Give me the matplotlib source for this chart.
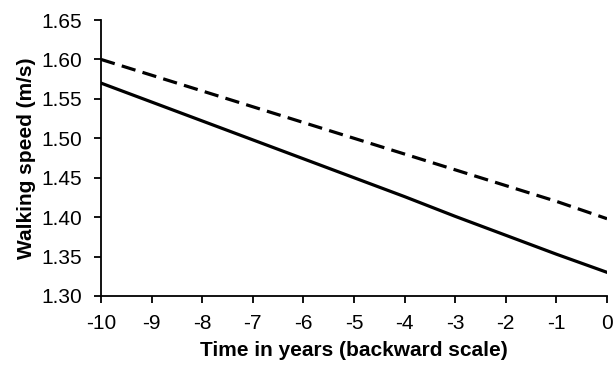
import matplotlib
matplotlib.use("Agg")
import matplotlib.pyplot as plt

# Time in years (backward scale)
years = [-10, -9, -8, -7, -6, -5, -4, -3, -2, -1, 0]
# Walking speed (m/s)
speed_solid = [1.570, 1.546, 1.522, 1.498, 1.474, 1.450, 1.426, 1.401, 1.377, 1.353, 1.330]
speed_dashed = [1.600, 1.580, 1.560, 1.540, 1.520, 1.500, 1.480, 1.460, 1.440, 1.420, 1.398]
y_ticks = [1.30, 1.35, 1.40, 1.45, 1.50, 1.55, 1.60, 1.65]

plt.rcParams['font.family'] = ['Liberation Sans', 'DejaVu Sans']

fig = plt.figure(figsize=(6.14, 3.67), dpi=100)
ax = fig.add_axes([0.1645, 0.1935, 0.8241, 0.752])

ax.plot(years, speed_dashed, color="black", linewidth=2.3, linestyle=(0, (4.5, 2.3)))
ax.plot(years, speed_solid, color="black", linewidth=2.3)

ax.set_xlim(-10, 0)
ax.set_ylim(1.30, 1.65)
ax.set_xticks(years)
ax.set_xticklabels([str(v) for v in years])
ax.set_yticks(y_ticks)
ax.set_yticklabels([f"{v:.2f}" for v in y_ticks])

for side in ["top", "right"]:
    ax.spines[side].set_visible(False)
for side in ["left", "bottom"]:
    ax.spines[side].set_linewidth(1.3)
ax.tick_params(direction="out", length=5, width=1.3, labelsize=15, colors="black")
ax.tick_params(axis="x", pad=8)
ax.tick_params(axis="y", pad=8.5)

ax.set_xlabel("Time in years (backward scale)", fontsize=15, fontweight="bold", labelpad=5.5)
ax.set_ylabel("Walking speed (m/s)", fontsize=15, fontweight="bold", labelpad=4)

fig.savefig("out.png", dpi=100)
